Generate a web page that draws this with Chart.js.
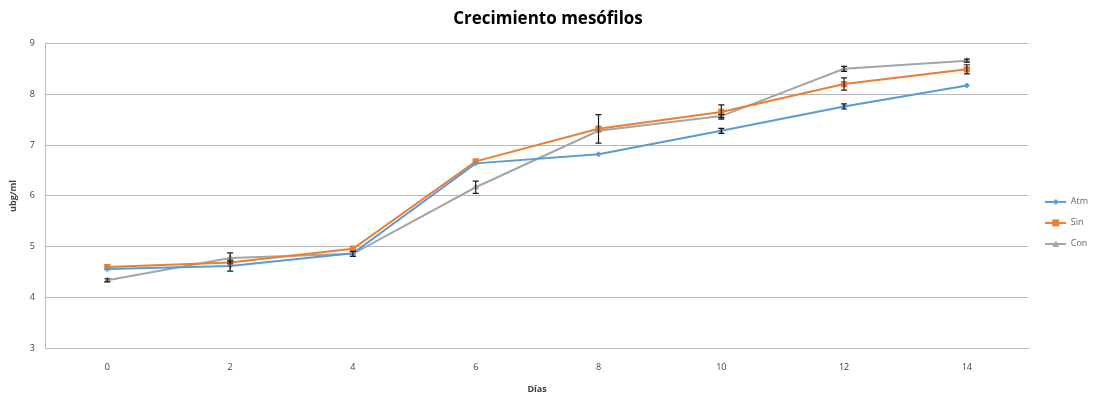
<!DOCTYPE html>
<html>
<head>
<meta charset="utf-8">
<script src="https://cdn.jsdelivr.net/npm/chart.js@4.4.1/dist/chart.umd.min.js"></script>
<style>
  html, body { margin: 0; padding: 0; background: #fff; }
  #wrap { width: 1095px; height: 396px; }
</style>
</head>
<body>
<div id="wrap"><canvas id="chart" width="1095" height="396"></canvas></div>
<script>
// Días de muestreo
const dias = ["0", "2", "4", "6", "8", "10", "12", "14"];

// log ufc/ml por tratamiento
const atm = [4.56, 4.62, 4.87, 6.64, 6.82, 7.28, 7.76, 8.17];
const sin = [4.60, 4.69, 4.96, 6.68, 7.32, 7.65, 8.20, 8.49];
const con = [4.34, 4.78, 4.86, 6.17, 7.28, 7.57, 8.50, 8.66];

// desviaciones (barras de error); 0 = no se ve
const atmErr = [0, 0.10, 0, 0, 0, 0.05, 0.05, 0];
const sinErr = [0, 0, 0, 0, 0.28, 0.14, 0.12, 0.09];
const conErr = [0.03, 0.10, 0.05, 0.12, 0, 0.03, 0.05, 0.03];

const COLORS = {
  atm: "#5B9BD5",
  sin: "#ED7D31",
  con: "#A5A5A5",
};

// little legend swatch: line with the marker in the middle
function swatch(color, shape) {
  const c = document.createElement("canvas");
  c.width = 21; c.height = 10;
  const g = c.getContext("2d");
  g.strokeStyle = color; g.fillStyle = color; g.lineWidth = 2;
  g.beginPath(); g.moveTo(0, 5); g.lineTo(21, 5); g.stroke();
  g.beginPath();
  if (shape === "diamond") {
    g.moveTo(10.5, 2); g.lineTo(13.5, 5); g.lineTo(10.5, 8); g.lineTo(7.5, 5);
  } else if (shape === "square") {
    g.rect(7, 1.5, 7, 7);
  } else {
    g.moveTo(10.5, 1.5); g.lineTo(14, 8); g.lineTo(7, 8);
  }
  g.closePath(); g.fill();
  return c;
}

const errorBars = {
  id: "errorBars",
  afterDatasetsDraw(chart) {
    const ctx = chart.ctx;
    const y = chart.scales.y;
    ctx.save();
    ctx.strokeStyle = "#1a1a1a";
    ctx.lineWidth = 1.2;
    chart.data.datasets.forEach((ds, i) => {
      if (!ds.errors) return;
      const meta = chart.getDatasetMeta(i);
      meta.data.forEach((pt, j) => {
        const e = ds.errors[j];
        if (!e) return;
        const top = y.getPixelForValue(ds.data[j] + e);
        const bot = y.getPixelForValue(ds.data[j] - e);
        ctx.beginPath();
        ctx.moveTo(pt.x, top); ctx.lineTo(pt.x, bot);
        ctx.moveTo(pt.x - 3, top); ctx.lineTo(pt.x + 3, top);
        ctx.moveTo(pt.x - 3, bot); ctx.lineTo(pt.x + 3, bot);
        ctx.stroke();
      });
    });
    ctx.restore();
  },
};

// the Excel legend is narrower than Chart.js makes it: trim its box,
// then slide it right a little so the swatches land where they should
const legendNudge = {
  id: "legendNudge",
  beforeLayout(chart) {
    const l = chart.legend;
    if (!l || l._trimmed) return;
    const fit = l.fit;
    l.fit = function () {
      fit.call(this);
      this.width -= 5;
    };
    l._trimmed = true;
  },
  afterLayout(chart) {
    const l = chart.legend;
    if (!l) return;
    l.left += 5;
    l.right += 5;
  },
};

const ds = (label, data, errors, color, style, radius, sw) => ({
  label,
  data,
  errors,
  borderColor: color,
  backgroundColor: color,
  borderWidth: 2,
  pointStyle: style,
  pointRadius: radius,
  pointBorderWidth: 0,
  tension: 0,
  legendImg: sw,
});

const datasets = [
  ds("Atm", atm, atmErr, COLORS.atm, "rectRot", 3, swatch(COLORS.atm, "diamond")),
  ds("Sin", sin, sinErr, COLORS.sin, "rect", 4.5, swatch(COLORS.sin, "square")),
  ds("Con", con, conErr, COLORS.con, "triangle", 4, swatch(COLORS.con, "triangle")),
];

const tickFont = { family: "'Open Sans', 'DejaVu Sans', sans-serif", size: 9 };

new Chart(document.getElementById("chart"), {
  type: "line",
  data: { labels: dias, datasets },
  plugins: [errorBars, legendNudge],
  options: {
    responsive: false,
    animation: false,
    layout: { padding: { left: 8, right: 7, top: 0, bottom: 1 } },
    scales: {
      x: {
        offset: true,
        grid: { display: false, drawTicks: false },
        border: { display: true, color: "#bfbfbf", width: 1 },
        ticks: { color: "#404040", font: tickFont, padding: 14 },
        title: {
          display: true,
          text: "Días",
          color: "#404040",
          font: { family: tickFont.family, size: 9, weight: "bold" },
          padding: { top: -3, bottom: 0 },
        },
      },
      y: {
        min: 3,
        max: 9,
        ticks: { stepSize: 1, color: "#404040", font: tickFont, padding: 11 },
        grid: { color: "#b8b8b8", drawTicks: false },
        border: { display: true, color: "#bfbfbf" },
        title: {
          display: true,
          text: "ubg/ml",
          color: "#404040",
          font: { family: tickFont.family, size: 9, weight: "bold" },
          padding: { top: 0, bottom: 0 },
        },
      },
    },
    plugins: {
      title: {
        display: true,
        text: "Crecimiento mesófilos",
        color: "#000",
        font: { family: "'Open Sans', 'DejaVu Sans', sans-serif", size: 17, weight: "bold" },
        padding: { top: 9, bottom: 14 },
      },
      legend: {
        position: "right",
        title: { display: true, text: " ", font: tickFont, padding: { top: 0, bottom: 40 } },
        labels: {
          usePointStyle: true,
          pointStyleWidth: 21,
          color: "#404040",
          font: tickFont,
          padding: 12,
          generateLabels(chart) {
            return chart.data.datasets.map((d, i) => ({
              text: d.label,
              pointStyle: d.legendImg,
              fillStyle: d.backgroundColor,
              strokeStyle: d.borderColor,
              lineWidth: 0,
              hidden: false,
              datasetIndex: i,
            }));
          },
        },
      },
      tooltip: { enabled: false },
    },
  },
});
</script>
</body>
</html>
